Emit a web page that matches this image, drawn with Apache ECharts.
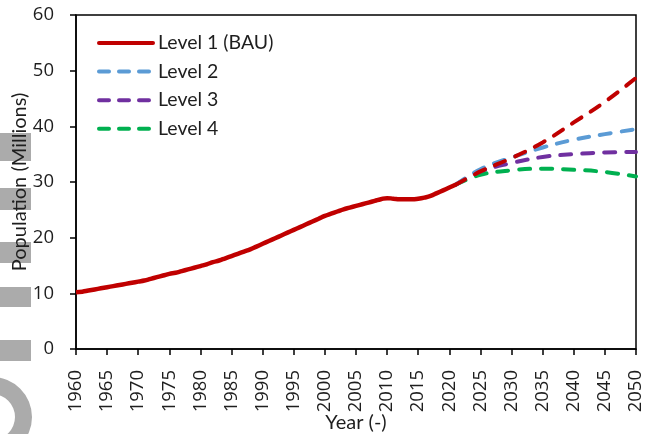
<!DOCTYPE html>
<html>
<head>
<meta charset="utf-8">
<script src="https://cdn.jsdelivr.net/npm/echarts@6/dist/echarts.min.js"></script>
<style>html,body{margin:0;padding:0;background:#fff;}#c{width:646px;height:434px;}</style>
</head>
<body>
<div id="c"></div>
<script>
const histYears = [1960,1961,1962,1963,1964,1965,1966,1967,1968,1969,1970,1971,1972,1973,1974,1975,1976,1977,1978,1979,1980,1981,1982,1983,1984,1985,1986,1987,1988,1989,1990,1991,1992,1993,1994,1995,1996,1997,1998,1999,2000,2001,2002,2003,2004,2005,2006,2007,2008,2009,2010,2011,2012,2013,2014,2015,2016,2017,2018,2019,2020,2021];
const histValues = [10.2,10.3,10.5,10.7,10.9,11.1,11.3,11.5,11.7,11.9,12.1,12.3,12.6,12.9,13.2,13.5,13.7,14.0,14.3,14.6,14.9,15.2,15.6,15.9,16.3,16.7,17.1,17.5,17.9,18.4,18.9,19.4,19.9,20.4,20.9,21.4,21.9,22.4,22.9,23.4,23.9,24.3,24.7,25.1,25.4,25.7,26.0,26.3,26.6,26.9,27.1,27.0,26.9,26.9,26.9,27.0,27.2,27.5,28.0,28.5,29.0,29.5];
const projYears = [2021,2025,2030,2035,2040,2045,2050];
const level1Proj = [29.5,31.9,34.3,37.1,40.7,44.4,48.7];
const level2Proj = [29.5,32.3,34.4,36.2,37.6,38.6,39.5];
const level3Proj = [29.5,31.9,33.4,34.5,35.0,35.3,35.4];
const level4Proj = [29.5,31.3,32.1,32.4,32.2,31.8,31.0];
const seriesNames = ['Level 1 (BAU)','Level 2','Level 3','Level 4'];
const colors = ['#C00000','#5B9BD5','#7030A0','#00B050'];

const zip = (xs, ys) => xs.map((x, i) => [x, ys[i]]);
const FONT = 'Lato, "Open Sans", sans-serif';
const NUMFONT = '"Open Sans", Lato, sans-serif';
const TXT = '#1e1e1e';
const dash = [11, 11];

const chart = echarts.init(document.getElementById('c'), null, {renderer: 'canvas'});
const projSeries = (name, data, color, z) => ({
  name: name, type: 'line', data: data, smooth: 0.4, symbol: 'none', z: z,
  lineStyle: {color: color, width: 4, type: dash, cap: 'round'},
  itemStyle: {color: color}
});
const legendItem = (i, solid) => ({
  name: seriesNames[i],
  itemStyle: {opacity: 0},
  lineStyle: {color: colors[i], width: 4, type: solid ? 'solid' : [10, 10], cap: 'round'}
});
chart.setOption({
  animation: false,
  textStyle: {fontFamily: FONT},
  grid: {left: 76, right: 10, top: 15, bottom: 85, outerBoundsMode: 'none', containLabel: false,
         show: true, borderColor: '#000', borderWidth: 1.5, backgroundColor: 'transparent'},
  legend: {
    data: [legendItem(0, true), legendItem(1), legendItem(2), legendItem(3)],
    orient: 'vertical', left: 92, top: 28, itemWidth: 54, itemHeight: 14, itemGap: 8.6,
    textStyle: {fontSize: 19.5, color: TXT, fontFamily: FONT}
  },
  xAxis: {
    type: 'value', min: 1960, max: 2050, interval: 5,
    name: 'Year (-)', nameLocation: 'middle', nameGap: 64, nameMoveOverlap: false,
    nameTextStyle: {fontSize: 20, color: TXT, fontFamily: FONT},
    axisLine: {show: true, lineStyle: {color: '#000', width: 1.5}},
    axisTick: {show: true, length: 6, lineStyle: {color: '#000', width: 1.5}},
    axisLabel: {rotate: 90, fontSize: 18.5, color: TXT, margin: 21, fontFamily: NUMFONT, formatter: v => String(v)},
    splitLine: {show: false}
  },
  yAxis: {
    type: 'value', min: 0, max: 60, interval: 10,
    name: 'Population (Millions)', nameLocation: 'middle', nameGap: 46, nameMoveOverlap: false,
    nameTextStyle: {fontSize: 20, color: TXT, fontFamily: FONT},
    axisLine: {show: true, lineStyle: {color: '#000', width: 1.5}},
    axisTick: {show: true, length: 6, lineStyle: {color: '#000', width: 1.5}},
    axisLabel: {fontSize: 18.5, color: TXT, margin: 22, fontFamily: NUMFONT},
    splitLine: {show: false}
  },
  series: [
    projSeries(seriesNames[3], zip(projYears, level4Proj), colors[3], 2),
    projSeries(seriesNames[2], zip(projYears, level3Proj), colors[2], 3),
    projSeries(seriesNames[1], zip(projYears, level2Proj), colors[1], 4),
    projSeries('Level 1 projection', zip(projYears, level1Proj), colors[0], 5),
    {name: seriesNames[0], type: 'line', data: zip(histYears, histValues), smooth: true, symbol: 'none', z: 6,
     lineStyle: {color: colors[0], width: 4.5}, itemStyle: {color: colors[0]}}
  ],
  graphic: [
    {type: 'rect', shape: {x: 0, y: 133, width: 31, height: 28}, style: {fill: '#ababab'}, z: -10},
    {type: 'rect', shape: {x: 0, y: 188, width: 31, height: 22}, style: {fill: '#ababab'}, z: -10},
    {type: 'rect', shape: {x: 0, y: 242, width: 31, height: 21}, style: {fill: '#ababab'}, z: -10},
    {type: 'rect', shape: {x: 0, y: 287, width: 31, height: 20}, style: {fill: '#ababab'}, z: -10},
    {type: 'rect', shape: {x: 0, y: 340, width: 31, height: 21}, style: {fill: '#ababab'}, z: -10},
    {type: 'ring', shape: {cx: -8, cy: 417, r: 40, r0: 23}, style: {fill: '#ababab'}, z: -10}
  ]
});
</script>
</body>
</html>
